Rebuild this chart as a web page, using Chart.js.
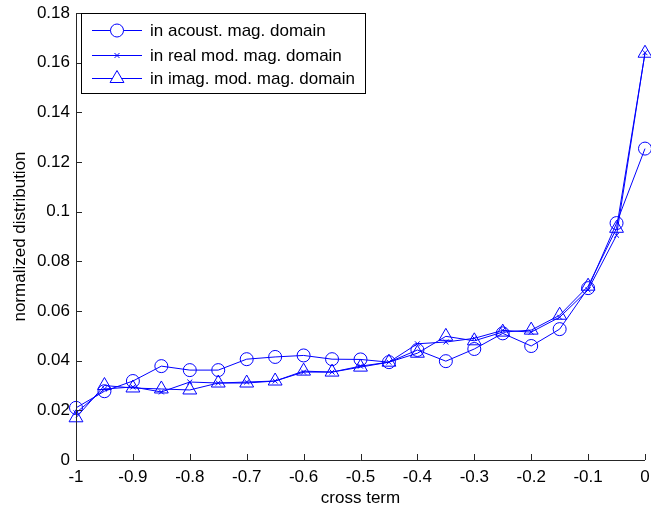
<!DOCTYPE html>
<html>
<head>
<meta charset="utf-8">
<script src="https://cdn.jsdelivr.net/npm/chart.js@4"></script>
<style>
    html, body { margin: 0; padding: 0; background: #fff; }
    #wrap { width: 651px; height: 511px; }
</style>
</head>
<body>
<div id="wrap"><canvas id="myChart" width="651" height="511"></canvas></div>
<script>
const crossTerm = [-1, -0.95, -0.9, -0.85, -0.8, -0.75, -0.7, -0.65, -0.6, -0.55, -0.5,
    -0.45, -0.4, -0.35, -0.3, -0.25, -0.2, -0.15, -0.1, -0.05, 0];
const acousticMag = [0.021, 0.0277, 0.0318, 0.0378, 0.0362, 0.0362, 0.0406, 0.0415, 0.0421, 0.0406, 0.0405,
    0.0394, 0.0443, 0.0398, 0.0447, 0.0510, 0.0459, 0.0527, 0.0692, 0.0954, 0.1254];
const realModMag = [0.019, 0.0286, 0.0294, 0.0274, 0.0314, 0.0310, 0.0314, 0.0318, 0.0354, 0.0354, 0.0378,
    0.0394, 0.0468, 0.0475, 0.0490, 0.0522, 0.0515, 0.0575, 0.0685, 0.0905, 0.164];
const imagModMag = [0.017, 0.0300, 0.0290, 0.0286, 0.0282, 0.0310, 0.0310, 0.0318, 0.0358, 0.0354, 0.0374,
    0.0394, 0.0430, 0.0498, 0.0480, 0.0515, 0.0523, 0.0583, 0.0700, 0.0933, 0.1638];
const seriesNames = ['in acoust. mag. domain', 'in real mod. mag. domain', 'in imag. mod. mag. domain'];
const xTicks = [-1, -0.9, -0.8, -0.7, -0.6, -0.5, -0.4, -0.3, -0.2, -0.1, 0];
const yTicks = [0, 0.02, 0.04, 0.06, 0.08, 0.1, 0.12, 0.14, 0.16, 0.18];

const blue = '#0000ff';
const fontFamily = 'Arial, "Liberation Sans", Helvetica, sans-serif';

function toPoints(values) {
    return crossTerm.map((x, i) => ({ x: x, y: values[i] }));
}

function fmt(v) {
    return String(Number(v.toFixed(2)));
}

const markerStyles = [
    { pointStyle: 'circle', radius: 6.5 },
    { pointStyle: 'crossRot', radius: 3.5 },
    { pointStyle: 'triangle', radius: 8 }
];

// axis ticks drawn inward, MATLAB style, plus the boxed legend
const matlabLook = {
    id: 'matlabLook',
    afterDraw(chart) {
        const ctx = chart.ctx;
        const area = chart.chartArea;
        const xs = chart.scales.x;
        const ys = chart.scales.y;
        ctx.save();
        ctx.strokeStyle = '#262626';
        ctx.lineWidth = 1;
        ctx.beginPath();
        ctx.moveTo(area.left + 0.5, area.top);
        ctx.lineTo(area.left + 0.5, area.bottom + 0.5);
        ctx.lineTo(area.right, area.bottom + 0.5);
        xTicks.forEach(v => {
            const px = Math.round(xs.getPixelForValue(v)) + 0.5;
            ctx.moveTo(px, area.bottom);
            ctx.lineTo(px, area.bottom - 6);
        });
        yTicks.forEach(v => {
            const py = Math.round(ys.getPixelForValue(v)) + 0.5;
            ctx.moveTo(area.left, py);
            ctx.lineTo(area.left + 6, py);
        });
        ctx.stroke();

        // legend
        const lx = 81.5, ly = 13.5, lw = 284, lh = 80;
        ctx.fillStyle = '#fff';
        ctx.fillRect(lx, ly, lw, lh);
        ctx.strokeStyle = '#000';
        ctx.strokeRect(lx, ly, lw, lh);
        const rows = [30, 55, 78];
        ctx.font = '17px ' + fontFamily;
        ctx.textBaseline = 'middle';
        seriesNames.forEach((name, i) => {
            const y = rows[i] + 0.5;
            ctx.strokeStyle = blue;
            ctx.beginPath();
            ctx.moveTo(92, y);
            ctx.lineTo(142, y);
            ctx.stroke();
            ctx.fillStyle = '#fff';
            Chart.helpers.drawPoint(ctx, {
                pointStyle: markerStyles[i].pointStyle,
                radius: markerStyles[i].radius,
                borderWidth: 1
            }, 117, y);
            ctx.fillStyle = '#000';
            ctx.fillText(name, 150, y + 1);
        });
        ctx.restore();
    }
};

const ctx = document.getElementById('myChart').getContext('2d');
const datasets = [acousticMag, realModMag, imagModMag].map((values, i) => ({
    label: seriesNames[i],
    data: toPoints(values),
    borderColor: blue,
    borderWidth: 1,
    backgroundColor: 'transparent',
    pointStyle: markerStyles[i].pointStyle,
    pointRadius: markerStyles[i].radius,
    pointBorderColor: blue,
    pointBackgroundColor: 'transparent',
    pointBorderWidth: 1,
    tension: 0
}));

new Chart(ctx, {
    type: 'line',
    data: { datasets: datasets },
    options: {
        responsive: false,
        animation: false,
        events: [],
        clip: false,
        layout: {
            autoPadding: false,
            padding: { left: 0, right: 6, top: 13, bottom: 0 }
        },
        plugins: {
            legend: { display: false },
            tooltip: { enabled: false }
        },
        scales: {
            x: {
                type: 'linear',
                min: -1,
                max: 0,
                afterBuildTicks: scale => { scale.ticks = xTicks.map(v => ({ value: v })); },
                afterFit: scale => {
                    scale.height = 51;
                    scale.paddingLeft = 0;
                    scale.paddingRight = 0;
                },
                grid: { display: false, drawTicks: false },
                border: { display: false },
                ticks: {
                    color: '#000',
                    font: { family: fontFamily, size: 17 },
                    padding: 7,
                    maxRotation: 0,
                    callback: v => fmt(v)
                },
                title: {
                    display: true,
                    text: 'cross term',
                    color: '#000',
                    font: { family: fontFamily, size: 17 },
                    padding: { top: 0, bottom: 2 }
                }
            },
            y: {
                min: 0,
                max: 0.18,
                afterBuildTicks: scale => { scale.ticks = yTicks.map(v => ({ value: v })); },
                afterFit: scale => {
                    scale.width = 76;
                    scale.paddingTop = 0;
                    scale.paddingBottom = 0;
                },
                grid: { display: false, drawTicks: false },
                border: { display: false },
                ticks: {
                    color: '#000',
                    font: { family: fontFamily, size: 17 },
                    padding: 6,
                    callback: v => fmt(v)
                },
                title: {
                    display: true,
                    text: 'normalized distribution',
                    color: '#000',
                    font: { family: fontFamily, size: 17 },
                    padding: { top: 10, bottom: 0 }
                }
            }
        }
    },
    plugins: [matlabLook]
});
</script>
</body>
</html>
